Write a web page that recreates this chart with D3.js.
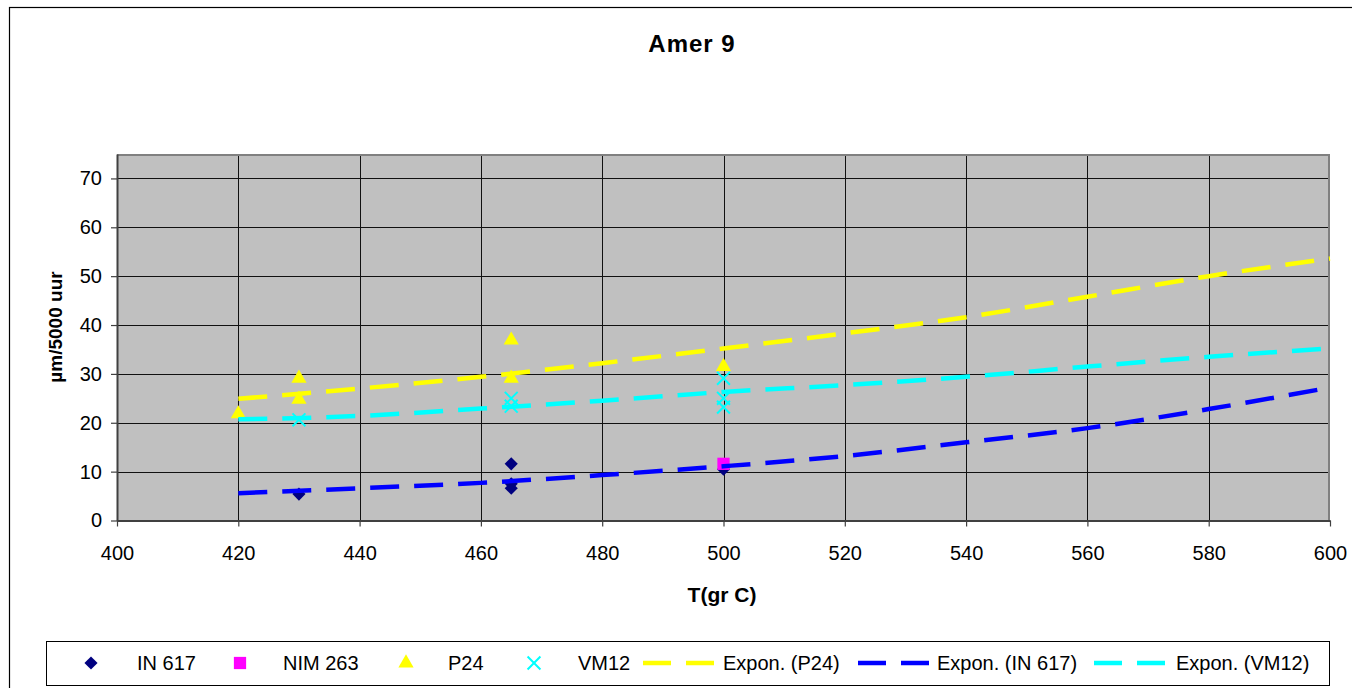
<!DOCTYPE html>
<html>
<head>
<meta charset="utf-8">
<script src="https://cdn.jsdelivr.net/npm/d3@7/dist/d3.min.js"></script>
<style>
  html, body { margin: 0; padding: 0; background: #fff; }
  svg { display: block; font-family: "Liberation Sans", Arial, sans-serif; }
</style>
</head>
<body>
<svg id="chart" width="1352" height="688"></svg>
<script>
// Measured wall-loss points (T in °C, loss in µm per 5000 h)
const in617 = [[430, 5.4], [465, 11.6], [465, 7.5], [465, 6.6], [500, 10.5]];
const nim263 = [[500, 11.6]];
const p24 = [[420, 21.8], [430, 29.1], [430, 24.8], [465, 36.9], [465, 29.1], [500, 31.5]];
const vm12 = [[430, 20.6], [465, 25.0], [465, 23.4], [500, 29.1], [500, 25.0], [500, 23.2]];

// Exponential trend curves, sampled every 20 °C
const trendT = [420, 440, 460, 480, 500, 520, 540, 560, 580, 600];
const trendP24 = [24.9, 27.0, 29.4, 32.2, 35.2, 38.3, 41.6, 45.8, 50.0, 53.6];
const trendIN617 = [5.6, 6.6, 7.7, 9.3, 11.1, 13.2, 16.0, 18.9, 22.8, 27.2];
const trendVM12 = [20.7, 21.4, 22.9, 24.5, 26.3, 27.7, 29.4, 31.5, 33.5, 35.2];

const xTicks = [400, 420, 440, 460, 480, 500, 520, 540, 560, 580, 600];
const yTicks = [0, 10, 20, 30, 40, 50, 60, 70];

const titleText = "Amer 9";
const xTitle = "T(gr C)";
const yTitle = "µm/5000 uur";

const svg = d3.select("#chart");

// outer chart frame
svg.append("rect")
  .attr("x", 9.5).attr("y", 7.5)
  .attr("width", 1400).attr("height", 700)
  .attr("fill", "#fff").attr("stroke", "#000").attr("stroke-width", 1.2);

const plot = { left: 117, right: 1330, top: 154, bottom: 520.5 };

const x = d3.scaleLinear().domain([400, 600]).range([plot.left, plot.right]);
const y = d3.scaleLinear().domain([0, 75]).range([plot.bottom, plot.top]);

// plot area background
svg.append("rect")
  .attr("x", plot.left).attr("y", plot.top)
  .attr("width", plot.right - plot.left).attr("height", plot.bottom - plot.top)
  .attr("fill", "#c0c0c0");

// gridlines
const grid = svg.append("g").attr("stroke", "#111").attr("stroke-width", 1);
grid.selectAll("line.h").data(yTicks.filter(v => v > 0)).join("line")
  .attr("x1", plot.left).attr("x2", plot.right)
  .attr("y1", d => Math.round(y(d)) + 0.5).attr("y2", d => Math.round(y(d)) + 0.5);
grid.selectAll("line.v").data(xTicks.filter(v => v > 400 && v < 600)).join("line")
  .attr("y1", plot.top).attr("y2", plot.bottom)
  .attr("x1", d => Math.round(x(d)) + 0.5).attr("x2", d => Math.round(x(d)) + 0.5);

// plot border (top / right)
svg.append("path")
  .attr("d", `M${plot.left},${plot.top + 1}H${plot.right - 1}V${plot.bottom}`)
  .attr("fill", "none").attr("stroke", "#808080").attr("stroke-width", 2);

// axes
const xAxis = svg.append("g")
  .attr("transform", `translate(0,${plot.bottom})`)
  .call(d3.axisBottom(x).tickValues(xTicks).tickSize(6).tickPadding(19).tickSizeOuter(0));
const yAxis = svg.append("g")
  .attr("transform", `translate(${plot.left},0)`)
  .call(d3.axisLeft(y).tickValues(yTicks).tickSize(6).tickPadding(9).tickSizeOuter(0));

[xAxis, yAxis].forEach(a => {
  a.select(".domain").attr("stroke", "#404040").attr("stroke-width", 2);
  a.selectAll(".tick line").attr("stroke", "#404040").attr("stroke-width", 1.2);
  a.selectAll(".tick text")
    .attr("fill", "#000")
    .style("font-size", "20px")
    .style("font-family", "'Liberation Sans', Arial, sans-serif");
});

// titles
svg.append("text")
  .attr("x", 692).attr("y", 52)
  .attr("text-anchor", "middle")
  .style("font-size", "24px").style("font-weight", "bold").style("letter-spacing", "1px")
  .text(titleText);

svg.append("text")
  .attr("x", 722).attr("y", 602)
  .attr("text-anchor", "middle")
  .style("font-size", "21px").style("font-weight", "bold")
  .text(xTitle);

svg.append("text")
  .attr("transform", "translate(62,327) rotate(-90)")
  .attr("text-anchor", "middle")
  .style("font-size", "19px").style("font-weight", "bold")
  .text(yTitle);

// marker shapes
const diamond = d3.symbol().type(d3.symbolDiamond2).size(110);
const square = d3.symbol().type(d3.symbolSquare).size(150);
const triangle = d3.symbol().type(d3.symbolTriangle).size(100);
const cross = d3.symbol().type(d3.symbolTimes).size(110);

const series = [
  { name: "IN 617", data: in617, shape: diamond, fill: "#000080", stroke: "none" },
  { name: "NIM 263", data: nim263, shape: square, fill: "#ff00ff", stroke: "none" },
  { name: "P24", data: p24, shape: triangle, fill: "#ffff00", stroke: "none" },
  { name: "VM12", data: vm12, shape: cross, fill: "none", stroke: "#00ffff" }
];

const points = svg.append("g");
series.forEach(s => {
  points.append("g").selectAll("path").data(s.data).join("path")
    .attr("transform", d => `translate(${x(d[0])},${y(d[1])})`)
    .attr("d", s.shape())
    .attr("fill", s.fill)
    .attr("stroke", s.stroke)
    .attr("stroke-width", 2);
});

// trend lines
const trends = [
  { name: "Expon. (P24)", values: trendP24, color: "#ffff00" },
  { name: "Expon. (IN 617)", values: trendIN617, color: "#0000ff" },
  { name: "Expon. (VM12)", values: trendVM12, color: "#00ffff" }
];
const line = d3.line()
  .x((d, i) => x(trendT[i]))
  .y(d => y(d))
  .curve(d3.curveMonotoneX);
svg.append("g").selectAll("path").data(trends).join("path")
  .attr("d", d => line(d.values))
  .attr("fill", "none")
  .attr("stroke", d => d.color)
  .attr("stroke-width", 4.5)
  .attr("stroke-dasharray", "29,15");

// legend
const legend = svg.append("g");
legend.append("rect")
  .attr("x", 46.5).attr("y", 641.5).attr("width", 1283).attr("height", 44)
  .attr("fill", "#fff").attr("stroke", "#000").attr("stroke-width", 1);

const legY = 663;
const markerItems = [
  { s: series[0], mx: 91, tx: 137 },
  { s: series[1], mx: 240, tx: 283 },
  { s: series[2], mx: 406, tx: 448 },
  { s: series[3], mx: 534, tx: 578 }
];
markerItems.forEach(it => {
  legend.append("path")
    .attr("transform", `translate(${it.mx},${legY})`)
    .attr("d", it.s.shape())
    .attr("fill", it.s.fill).attr("stroke", it.s.stroke).attr("stroke-width", 2);
  legend.append("text")
    .attr("x", it.tx).attr("y", legY + 7)
    .style("font-size", "20px")
    .text(it.s.name);
});
const lineItems = [
  { t: trends[0], lx: 643, tx: 723 },
  { t: trends[1], lx: 858, tx: 937 },
  { t: trends[2], lx: 1094, tx: 1176 }
];
lineItems.forEach(it => {
  legend.append("line")
    .attr("x1", it.lx).attr("x2", it.lx + 71)
    .attr("y1", legY).attr("y2", legY)
    .attr("stroke", it.t.color).attr("stroke-width", 4.5)
    .attr("stroke-dasharray", "28,15");
  legend.append("text")
    .attr("x", it.tx).attr("y", legY + 7)
    .style("font-size", "20px")
    .text(it.t.name);
});
</script>
</body>
</html>
